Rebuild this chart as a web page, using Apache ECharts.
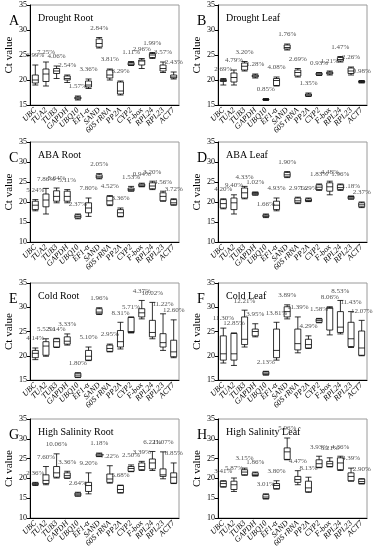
<!DOCTYPE html>
<html>
<head>
<meta charset="utf-8">
<script src="https://cdn.jsdelivr.net/npm/echarts@6/dist/echarts.min.js"></script>
<style>
html,body{margin:0;padding:0;background:#fff;}
#main{width:376px;height:550px;}
</style>
</head>
<body>
<div id="main"></div>
<script>
const categories = ['UBC','TUA2','TUB3','GAPDH','UBQ10','EF1-α','SAND','60S rRNA','PP2A','CYP2','F-box','RPL24','RPL23','ACT7'];

const panelLetters = ['A','B','C','D','E','F','G','H'];
const panelTitles = ['Drought Root','Drought Leaf','ABA Root','ABA Leaf','Cold Root','Cold Leaf','High Salinity Root','High Salinity Leaf'];
const yMins = [15,15,10,10,15,15,10,10];
const yMax = 35;
const yInterval = 5;

// [min, Q1, median, Q3, max]
const droughtRoot = [
  [19.0,19.4,20.0,21.0,23.0],[18.8,19.7,21.2,22.2,23.6],[20.3,21.3,21.8,22.3,22.8],[19.5,20.0,20.3,20.8,21.0],
  [16.0,16.2,16.4,16.6,16.8],[18.3,18.6,19.0,19.8,20.2],[26.4,26.6,27.3,28.2,28.5],[20.0,20.4,21.0,22.0,22.2],
  [17.0,17.2,17.8,19.6,19.8],[22.9,23.0,23.2,23.5,23.7],[22.3,23.0,23.8,24.0,24.3],[24.3,24.5,25.0,25.3,25.5],
  [21.5,21.8,22.3,23.0,23.6],[20.2,20.4,20.6,21.0,21.6]
];
const droughtRootCV = ['6.99%','7.25%','4.06%','2.54%','1.57%','3.36%','2.84%','3.81%','6.29%','1.11%','2.96%','1.99%','3.57%','2.43%'];

const droughtLeaf = [
  [19.0,19.7,19.9,20.1,20.3],[19.0,19.6,20.5,21.4,22.0],[21.8,22.0,22.75,23.4,23.7],[20.4,20.6,20.8,21.0,21.2],
  [15.9,16.0,16.1,16.2,16.3],[18.8,18.9,19.9,20.3,20.6],[26.0,26.2,26.5,27.0,27.2],[20.6,20.8,21.5,22.0,22.3],
  [16.7,16.8,17.0,17.2,17.4],[20.9,21.0,21.2,21.4,21.5],[21.0,21.2,21.4,21.6,21.8],[23.6,23.8,24.1,24.5,24.7],
  [21.0,21.3,21.8,22.4,22.6],[19.4,19.5,19.7,19.8,19.9]
];
const droughtLeafCV = ['2.69%','4.79%','3.20%','1.28%','0.85%','4.08%','1.76%','2.69%','1.35%','0.93%','1.21%','1.47%','2.26%','0.98%'];

const abaRoot = [
  [17.8,18.1,19.2,20.2,20.6],[17.0,18.8,20.5,22.0,23.4],[19.8,20.2,21.4,22.8,23.5],[19.8,20.2,21.4,22.7,23.1],
  [15.8,16.0,16.4,16.8,17.0],[16.4,17.3,18.5,19.8,21.0],[25.8,26.0,26.3,26.8,27.1],[19.1,19.3,20.3,21.4,21.6],
  [16.3,16.4,17.3,18.1,18.5],[22.7,22.8,23.1,23.5,23.9],[23.8,23.9,24.2,24.5,24.7],[23.1,23.3,24.0,24.8,25.2],
  [20.2,20.3,21.4,22.3,22.7],[19.2,19.3,19.8,20.6,20.8]
];
const abaRootCV = ['5.24%','7.86%','5.64%','5.11%','2.37%','7.80%','2.05%','4.52%','3.36%','1.53%','0.94%','3.20%','4.56%','3.72%'];

const abaLeaf = [
  [18.3,18.5,19.6,20.6,20.8],[17.0,18.1,19.8,21.0,21.8],[20.8,21.0,22.3,23.5,23.9],[21.7,21.8,22.1,22.4,22.5],
  [16.1,16.3,16.5,16.8,17.0],[17.8,18.1,19.2,20.2,21.0],[26.1,26.3,26.8,27.4,27.6],[19.6,19.8,20.3,21.0,21.2],
  [20.1,20.2,20.4,20.8,21.0],[22.9,23.1,23.7,24.3,24.5],[21.8,22.7,23.8,24.8,25.2],[22.9,23.1,23.6,24.3,24.5],
  [20.7,20.8,21.2,21.4,21.5],[18.6,18.8,19.3,19.8,20.0]
];
const abaLeafCV = ['4.20%','9.40%','4.33%','1.02%','1.66%','4.93%','1.90%','2.97%','1.29%','1.83%','4.48%','1.96%','1.18%','2.37%'];

const coldRoot = [
  [19.2,19.6,20.5,21.1,21.6],[19.9,20.1,22.0,22.9,23.5],[21.7,21.8,22.9,23.5,23.6],[22.2,22.4,23.0,23.9,24.5],
  [15.5,15.6,16.0,16.4,16.5],[19.0,19.1,19.9,21.1,21.8],[28.5,28.65,29.0,29.7,29.9],[20.8,20.9,21.5,22.2,22.4],
  [21.4,21.8,22.9,25.2,26.9],[24.7,24.8,25.0,27.9,28.0],[27.6,28.0,28.85,29.7,31.4],[23.5,23.9,24.8,27.3,31.0],
  [21.1,21.8,22.7,24.55,28.65],[19.6,19.8,20.8,23.2,27.4]
];
const coldRootCV = ['4.14%','5.52%','3.14%','3.33%','1.80%','5.10%','1.96%','2.95%','8.31%','5.71%','4.37%','10.02%','11.22%','12.60%'];

const coldLeaf = [
  [18.5,19.1,20.4,24.1,25.7],[18.0,19.1,20.4,24.6,24.7],[21.8,22.3,23.4,28.0,29.4],[23.9,24.1,25.0,25.5,26.6],
  [16.0,16.1,16.4,16.7,16.8],[19.1,19.6,21.1,25.5,26.9],[27.6,28.0,29.1,30.1,30.5],[20.6,21.2,22.5,25.5,28.0],
  [21.5,21.6,22.3,23.4,24.1],[26.8,26.9,27.3,27.6,27.7],[24.3,25.3,29.8,29.9,30.1],[24.5,24.8,25.9,29.1,31.4],
  [21.7,21.9,23.5,26.9,29.1],[20.0,20.1,21.6,25.1,27.3]
];
const coldLeafCV = ['11.30%','12.85%','12.21%','3.95%','2.13%','13.81%','3.89%','11.39%','4.29%','1.58%','8.06%','8.53%','11.43%','12.07%'];

const saltRoot = [
  [18.2,18.4,18.6,18.8,19.0],[18.4,18.7,19.5,20.9,23.0],[20.1,20.3,21.4,23.0,26.2],[20.0,20.1,20.7,21.4,21.8],
  [15.5,15.6,16.0,16.3,16.5],[16.1,16.7,18.2,19.0,21.4],[25.5,25.6,25.9,26.2,26.4],[18.8,19.0,19.85,21.1,23.2],
  [16.3,16.4,17.2,18.2,18.3],[21.7,21.8,22.5,23.0,23.4],[22.0,22.2,23.0,23.9,24.3],[22.0,22.4,23.9,24.9,26.8],
  [19.9,20.5,20.9,22.4,26.7],[18.7,18.8,20.3,21.4,23.9]
];
const saltRootCV = ['2.36%','7.60%','10.06%','3.36%','2.64%','9.20%','1.18%','7.22%','5.68%','2.50%','3.39%','6.22%','11.07%','8.85%'];

const saltLeaf = [
  [17.8,17.9,18.7,19.3,19.4],[16.7,17.2,18.4,19.3,20.1],[20.8,20.9,21.6,22.2,22.6],[20.6,20.7,20.9,21.4,21.6],
  [14.8,14.9,15.3,15.9,16.1],[17.3,17.4,18.2,18.7,19.4],[24.7,24.8,26.7,27.7,30.2],[18.4,19.0,19.7,20.5,21.95],
  [16.5,16.6,17.6,19.3,20.3],[22.7,22.8,23.7,24.7,25.6],[22.9,23.0,23.7,24.3,25.2],[22.0,22.2,23.9,25.2,25.6],
  [19.3,19.4,20.5,21.4,22.6],[18.6,18.7,19.2,19.85,19.9]
];
const saltLeafCV = ['3.41%','5.87%','3.15%','1.86%','3.01%','3.80%','5.96%','4.47%','8.13%','3.93%','3.21%','4.36%','4.39%','2.90%'];

const panelData = [droughtRoot, droughtLeaf, abaRoot, abaLeaf, coldRoot, coldLeaf, saltRoot, saltLeaf];
const panelCV = [droughtRootCV, droughtLeafCV, abaRootCV, abaLeafCV, coldRootCV, coldLeafCV, saltRootCV, saltLeafCV];

// ---- layout ----
const colLeft = [30, 218];
const plotW = 149;
const rowTop = [5, 142, 283, 419];
const rowH = [100, 100, 97, 99];
const serif = '"Liberation Serif", "DejaVu Serif", serif';

const grids = [], xAxes = [], yAxes = [], series = [], titles = [];
for (let p = 0; p < 8; p++) {
  const col = p % 2, row = Math.floor(p / 2);
  const left = colLeft[col], top = rowTop[row], h = rowH[row];
  grids.push({left: left, top: top, width: plotW, height: h, show: true, borderColor: '#9a9a9a', borderWidth: 1, backgroundColor: 'transparent'});
  xAxes.push({
    type: 'category', gridIndex: p, data: categories, boundaryGap: true,
    axisLine: {lineStyle: {color: '#000', width: 1}},
    axisTick: {alignWithLabel: true, length: 3, lineStyle: {color: '#000'}},
    axisLabel: {interval: 0, rotate: 45, fontFamily: serif, fontStyle: 'italic', fontSize: 8, color: '#000', margin: 4}
  });
  yAxes.push({
    type: 'value', gridIndex: p, min: yMins[p], max: yMax, interval: yInterval,
    name: 'Ct value', nameLocation: 'middle', nameGap: 14, nameRotate: 90,
    nameTextStyle: {fontFamily: serif, fontSize: 11, color: '#000'},
    axisLine: {show: true, lineStyle: {color: '#000', width: 1}},
    axisTick: {show: true, length: 3, lineStyle: {color: '#000'}},
    axisLabel: {fontFamily: serif, fontSize: 8, color: '#000', margin: 3},
    splitLine: {show: false}
  });
  series.push({
    type: 'boxplot', xAxisIndex: p, yAxisIndex: p, data: panelData[p],
    boxWidth: [5, 6],
    itemStyle: {color: '#fff', borderColor: '#000', borderWidth: 0.8},
    emphasis: {disabled: true}, silent: true
  });
  series.push({
    type: 'scatter', xAxisIndex: p, yAxisIndex: p, symbolSize: 0, silent: true,
    data: panelData[p].map((d, i) => ({value: [i, d[4]], cv: panelCV[p][i]})),
    label: {show: true, position: 'top', distance: 6, formatter: (o) => o.data.cv,
      fontFamily: serif, fontSize: 7, color: '#222'}
  });
  titles.push({text: panelLetters[p], left: left - 26, top: top + 4,
    textStyle: {fontFamily: serif, fontSize: 14, fontWeight: 'normal', color: '#000'}});
  titles.push({text: panelTitles[p], left: left + 3, top: top + 3,
    textStyle: {fontFamily: serif, fontSize: 10, fontWeight: 'normal', color: '#000'}});
}

const chart = echarts.init(document.getElementById('main'), null, {renderer: 'canvas'});
chart.setOption({
  animation: false,
  backgroundColor: '#fff',
  title: titles,
  grid: grids,
  xAxis: xAxes,
  yAxis: yAxes,
  series: series
});
</script>
</body>
</html>
